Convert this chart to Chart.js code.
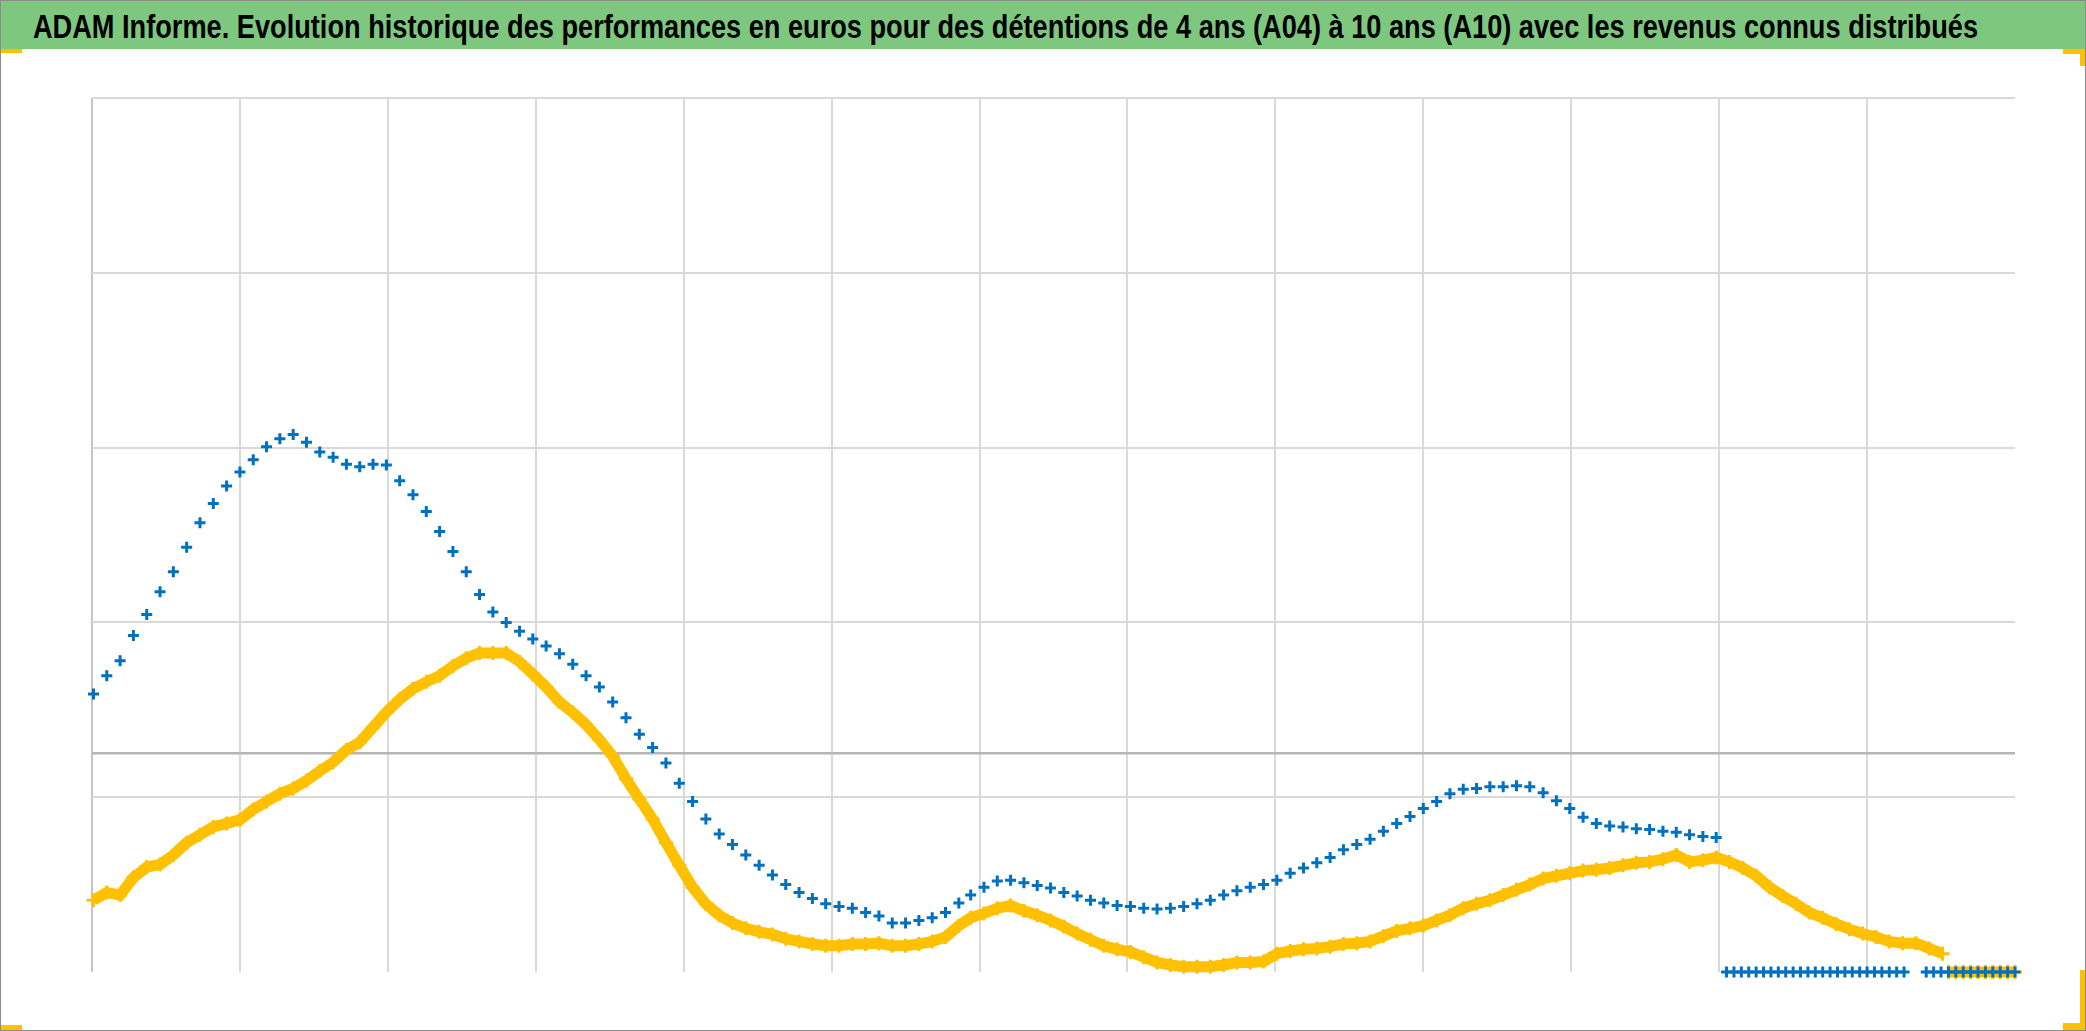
<!DOCTYPE html>
<html lang="fr">
<head>
<meta charset="utf-8">
<title>ADAM Informe</title>
<script src="https://cdn.jsdelivr.net/npm/chart.js@4.4.1/dist/chart.umd.min.js"></script>
<style>
  html, body { margin: 0; padding: 0; background: #fff; }
  #cadre { position: relative; width: 2086px; height: 1031px; overflow: hidden; }
  #bandeau { position: absolute; left: 0; top: 0; width: 2086px; height: 49px; background: #7dc87e; }
  #titre {
    position: absolute; left: 33px; top: 10px; line-height: 1; white-space: nowrap;
    font-family: "Liberation Sans Narrow", "Liberation Sans", Arial, sans-serif;
    font-weight: bold; font-size: 33px; color: #000; transform-origin: 0 0;
  }
  #graphique { position: absolute; left: 0; top: 0; }
  #bord { position: absolute; left: 0; top: 0; width: 2086px; height: 1031px; box-sizing: border-box; border: 1px solid #8c8c8c; pointer-events: none; }
  .coin { position: absolute; background: #ffc000; }
</style>
</head>
<body>
<div id="cadre">
  <canvas id="graphique" width="2086" height="1031"></canvas>
  <div id="bandeau"><span id="titre">ADAM Informe. Evolution historique des performances en euros pour des détentions de 4 ans (A04) à 10 ans (A10) avec les revenus connus distribués</span></div>
  <div class="coin" style="left:0;top:49px;width:22px;height:4px"></div>
  <div class="coin" style="left:2063px;top:49px;width:22px;height:5px"></div>
  <div class="coin" style="left:2080px;top:49px;width:5px;height:17px"></div>
  <div class="coin" style="left:0;top:1025px;width:22px;height:5px"></div>
  <div class="coin" style="left:2063px;top:1023px;width:22px;height:7px"></div>
  <div class="coin" style="left:2080px;top:970px;width:5px;height:60px"></div>
  <div id="bord"></div>
</div>
<script>
const dates = [
  0.01, 0.10, 0.19, 0.28, 0.37, 0.46, 0.55, 0.64, 0.73, 0.82,
  0.91, 1.00, 1.09, 1.18, 1.27, 1.36, 1.45, 1.54, 1.63, 1.72,
  1.81, 1.90, 1.99, 2.08, 2.17, 2.26, 2.35, 2.44, 2.53, 2.62,
  2.71, 2.80, 2.89, 2.98, 3.07, 3.16, 3.25, 3.34, 3.43, 3.52,
  3.61, 3.70, 3.79, 3.88, 3.97, 4.06, 4.15, 4.24, 4.33, 4.42,
  4.51, 4.60, 4.69, 4.78, 4.87, 4.96, 5.05, 5.14, 5.23, 5.32,
  5.41, 5.50, 5.59, 5.68, 5.77, 5.86, 5.94, 6.03, 6.12, 6.21,
  6.30, 6.39, 6.48, 6.57, 6.66, 6.75, 6.84, 6.93, 7.02, 7.11,
  7.20, 7.29, 7.38, 7.47, 7.56, 7.65, 7.74, 7.83, 7.92, 8.01,
  8.10, 8.19, 8.28, 8.37, 8.46, 8.55, 8.64, 8.73, 8.82, 8.91,
  9.00, 9.09, 9.18, 9.27, 9.36, 9.45, 9.54, 9.63, 9.72, 9.81,
  9.90, 9.99, 10.08, 10.17, 10.26, 10.35, 10.44, 10.53, 10.62, 10.71,
  10.80, 10.89, 10.98, 11.07, 11.16, 11.25, 11.34, 11.43, 11.52, 11.61,
  11.70, 11.79, 11.88, 11.97, 12.06, 12.15, 12.24, 12.33, 12.42, 12.51
];

// Série bleue (A04)
const perfBleue = [
  31.8, 33.9, 35.6, 38.5, 40.9, 43.5, 45.8, 48.6, 51.4, 53.6,
  55.6, 57.2, 58.6, 60.1, 61.0, 61.5, 60.6, 59.5, 58.9, 58.1,
  57.8, 58.1, 58.0, 56.2, 54.6, 52.7, 50.4, 48.1, 45.8, 43.2,
  41.2, 40.0, 39.0, 38.1, 37.3, 36.4, 35.2, 33.9, 32.6, 30.9,
  29.1, 27.2, 25.7, 23.9, 21.6, 19.5, 17.5, 15.8, 14.6, 13.4,
  12.2, 11.1, 10.0, 9.1, 8.4, 7.8, 7.5, 7.3, 6.8, 6.4,
  5.6, 5.6, 5.9, 6.2, 6.8, 7.9, 8.8, 9.7, 10.4, 10.5,
  10.2, 9.9, 9.6, 9.1, 8.7, 8.2, 7.9, 7.6, 7.5, 7.3,
  7.2, 7.3, 7.5, 7.8, 8.2, 8.8, 9.3, 9.7, 10.0, 10.5,
  11.3, 11.9, 12.5, 13.1, 14.0, 14.6, 15.2, 16.1, 17.0, 17.8,
  18.7, 19.5, 20.4, 20.9, 21.0, 21.2, 21.2, 21.3, 21.2, 20.5,
  19.6, 18.7, 17.7, 17.0, 16.7, 16.6, 16.4, 16.3, 16.1, 16.0,
  15.7, 15.5, 15.4
];

// Série jaune (A10)
const perfJaune = [
  8.2, 9.1, 8.8, 10.8, 12.0, 12.3, 13.4, 14.8, 15.7, 16.6,
  17.0, 17.4, 18.6, 19.5, 20.4, 21.0, 21.9, 23.0, 24.0, 25.4,
  26.3, 28.0, 29.7, 31.2, 32.4, 33.2, 33.9, 35.0, 35.9, 36.5,
  36.5, 36.5, 35.5, 34.1, 32.6, 30.9, 29.7, 28.3, 26.6, 24.7,
  22.1, 19.8, 17.5, 14.8, 12.2, 9.7, 7.8, 6.5, 5.6, 5.0,
  4.6, 4.3, 3.8, 3.5, 3.2, 3.0, 3.0, 3.2, 3.2, 3.3,
  3.0, 3.0, 3.2, 3.5, 4.0, 5.3, 6.2, 6.7, 7.3, 7.6,
  7.0, 6.5, 5.9, 5.2, 4.4, 3.7, 3.0, 2.6, 2.3, 1.7,
  1.1, 0.8, 0.6, 0.6, 0.6, 0.8, 1.1, 1.1, 1.2, 2.1,
  2.4, 2.6, 2.7, 2.9, 3.2, 3.3, 3.5, 4.1, 4.7, 5.0,
  5.3, 5.9, 6.5, 7.3, 7.8, 8.2, 8.8, 9.4, 10.0, 10.7,
  11.0, 11.3, 11.6, 11.7, 11.9, 12.2, 12.5, 12.6, 12.9, 13.4,
  12.6, 12.8, 13.1, 12.6, 11.9, 11.0, 9.7, 8.7, 7.8, 6.8,
  6.2, 5.5, 4.9, 4.4, 4.0, 3.5, 3.3, 3.3, 2.7, 2.1
];

// Périodes sans valeur connue (tracées à zéro)
const datesZeroBleue = [
  11.05, 11.10, 11.15, 11.20, 11.25, 11.30, 11.35, 11.40, 11.45, 11.50,
  11.55, 11.60, 11.65, 11.70, 11.75, 11.80, 11.85, 11.90, 11.95, 12.00,
  12.05, 12.10, 12.15, 12.20, 12.25,
  12.40, 12.45, 12.50, 12.55, 12.60, 12.65, 12.70, 12.75, 12.80, 12.85,
  12.90, 12.95, 13.00
];
const datesZeroJaune = [12.55, 12.60, 12.65, 12.70, 12.75, 12.80, 12.85, 12.90, 12.95, 13.00];

// Axes
const xMax = 13;
const yMax = 100;
const pasY = 20;
const croisementAxe = 25;

const bleu = '#0070c0';
const jaune = '#ffc000';

// Ajuste le titre à la largeur du bandeau
const titre = document.getElementById('titre');
const largeurTitre = 1945;
titre.style.transform = 'scaleX(' + (largeurTitre / titre.getBoundingClientRect().width) + ')';

function points(xs, ys) {
    return ys.map((y, i) => ({ x: xs[i], y: y }));
}

function zeros(xs) {
    return xs.map(x => ({ x: x, y: 0 }));
}

const marqueur = {
    pointStyle: 'cross',
    showLine: false,
    clip: false
};

const ctx = document.getElementById('graphique').getContext('2d');
const graphique = new Chart(ctx, {
    type: 'scatter',
    data: {
        datasets: [
            Object.assign({}, marqueur, {
                label: 'A04',
                data: points(dates, perfBleue),
                borderColor: bleu,
                backgroundColor: bleu,
                pointRadius: 5.5,
                pointBorderWidth: 3
            }),
            Object.assign({}, marqueur, {
                label: 'A04 zéro',
                data: zeros(datesZeroBleue),
                borderColor: bleu,
                backgroundColor: bleu,
                pointRadius: 5.5,
                pointBorderWidth: 3
            }),
            Object.assign({}, marqueur, {
                label: 'A10',
                data: points(dates, perfJaune),
                showLine: true,
                borderWidth: 11,
                borderColor: jaune,
                backgroundColor: jaune,
                pointRadius: 7,
                pointBorderWidth: 3
            }),
            Object.assign({}, marqueur, {
                label: 'A10 zéro',
                data: zeros(datesZeroJaune),
                showLine: true,
                borderWidth: 11,
                borderColor: jaune,
                backgroundColor: jaune,
                pointRadius: 7,
                pointBorderWidth: 3
            })
        ]
    },
    options: {
        responsive: false,
        animation: false,
        devicePixelRatio: 1,
        events: [],
        layout: {
            autoPadding: false,
            padding: { left: 92, top: 98, right: 71, bottom: 59 }
        },
        plugins: {
            legend: { display: false },
            tooltip: { enabled: false }
        },
        scales: {
            x: {
                type: 'linear',
                min: 0,
                max: xMax,
                ticks: { display: false, stepSize: 1 },
                border: { display: false },
                grid: {
                    drawTicks: false,
                    lineWidth: 2,
                    color: c => {
                        if (c.tick.value === 0) return '#c4c4c4';
                        if (c.tick.value === xMax) return 'rgba(0,0,0,0)';
                        return '#d9d9d9';
                    }
                },
                afterFit: s => { s.height = 0; }
            },
            y: {
                min: 0,
                max: yMax,
                ticks: { display: false, stepSize: pasY },
                border: { display: false },
                afterBuildTicks: s => { s.ticks.push({ value: croisementAxe }); },
                grid: {
                    drawTicks: false,
                    lineWidth: c => c.tick.value === croisementAxe ? 2.5 : 2,
                    color: c => {
                        if (c.tick.value === 0) return 'rgba(0,0,0,0)';
                        if (c.tick.value === croisementAxe) return '#b5b5b5';
                        return '#d9d9d9';
                    }
                },
                afterFit: s => { s.width = 0; }
            }
        }
    }
});
</script>
</body>
</html>
